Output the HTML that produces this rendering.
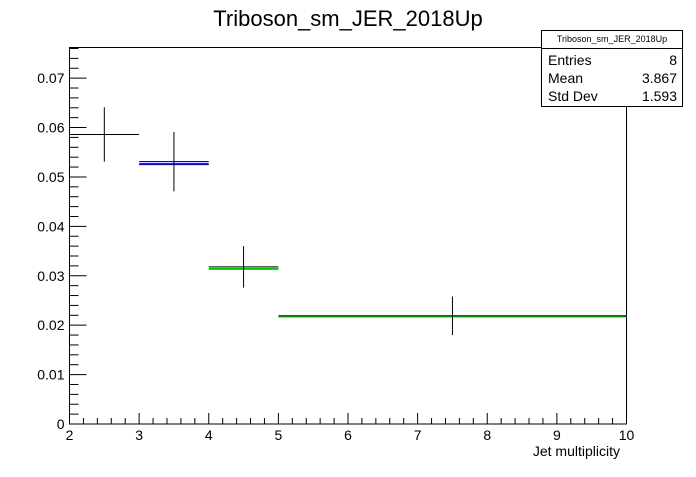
<!DOCTYPE html>
<html><head><meta charset="utf-8"><style>
body{margin:0;background:#fff;font-family:"Liberation Sans",sans-serif}
svg text{font-family:"Liberation Sans",sans-serif}
</style></head><body>
<svg width="696" height="472" viewBox="0 0 696 472">
<rect x="0" y="0" width="696" height="472" fill="#fff"/>
<text x="348" y="26" font-size="22" text-anchor="middle">Triboson_sm_JER_2018Up</text>
<rect x="69.5" y="47.5" width="557" height="376.5" fill="none" stroke="#000"/>
<g id="axes"></g>
<g id="marks"></g>
<text x="620" y="456" font-size="14" text-anchor="end">Jet multiplicity</text>
<g>
<rect x="541.5" y="30.5" width="141" height="76" fill="#fff" stroke="#000"/>
<line x1="541.5" y1="48.5" x2="682.5" y2="48.5" stroke="#000"/>
<text x="612" y="42" font-size="9" text-anchor="middle">Triboson_sm_JER_2018Up</text>
<text x="548" y="65" font-size="14">Entries</text><text x="677" y="65" font-size="14" text-anchor="end">8</text>
<text x="548" y="83" font-size="14">Mean</text><text x="677" y="83" font-size="14" text-anchor="end">3.867</text>
<text x="548" y="101" font-size="14">Std Dev</text><text x="677" y="101" font-size="14" text-anchor="end">1.593</text>
</g>
</svg>
<script>
const binLow=[2,3,4,5];
const binHigh=[3,4,5,10];
const values=[0.0586,0.0531,0.0318,0.0219];
const errors=[0.0055,0.006,0.0042,0.0039];
const blueVals=[null,0.0526,null,null];
const greenVals=[null,null,0.0314,0.02175];
const xTicks=[2,3,4,5,6,7,8,9,10];
const yTicks=[0,0.01,0.02,0.03,0.04,0.05,0.06,0.07];
const NS="http://www.w3.org/2000/svg";
const X0=69.5,X1=626.5,Y0=424,Y1=47.5,xmin=2,xmax=10,ymin=0,ymax=0.0762;
const sx=v=>X0+(v-xmin)/(xmax-xmin)*(X1-X0);
const sy=v=>Y0-(v-ymin)/(ymax-ymin)*(Y0-Y1);
function mk(t,a,p){const e=document.createElementNS(NS,t);for(const k in a)e.setAttribute(k,a[k]);p.appendChild(e);return e;}
const ax=document.getElementById('axes'),mg=document.getElementById('marks');
for(let v=2;v<=10.001;v+=0.2){const x=sx(v);const maj=Math.abs(v-Math.round(v))<1e-6;
 const l=mk('line',{x1:x,x2:x,y1:Y0,y2:Y0-(maj?11:6),stroke:'#000'},ax);
 
 }
xTicks.forEach(v=>{const t=mk('text',{x:sx(v),y:Y0+16,'font-size':14,'text-anchor':'middle'},ax);t.textContent=v;
 
 });
for(let v=0;v<=ymax+1e-9;v+=0.002){const y=sy(v);const maj=Math.abs(v*100-Math.round(v*100))<1e-6;
 const l=mk('line',{x1:X0,x2:X0+(maj?17:9),y1:y,y2:y,stroke:'#000'},ax);
 
 }
yTicks.forEach(v=>{const t=mk('text',{x:X0-5,y:sy(v)+5,'font-size':14,'text-anchor':'end'},ax);t.textContent=v===0?'0':v.toFixed(2);
 
 });
blueVals.forEach((v,i)=>{if(v==null)return;const l=mk('line',{x1:sx(binLow[i]),x2:sx(binHigh[i]),y1:sy(v),y2:sy(v),stroke:'#00f','stroke-width':2},mg);
 
 });
greenVals.forEach((v,i)=>{if(v==null)return;const l=mk('line',{x1:sx(binLow[i]),x2:sx(binHigh[i]),y1:sy(v),y2:sy(v),stroke:'#0c0','stroke-width':2},mg);
 
 });
values.forEach((v,i)=>{const g=mk('g',{},mg);
 
 
 const xc=sx((binLow[i]+binHigh[i])/2);
 mk('line',{x1:sx(binLow[i]),x2:sx(binHigh[i]),y1:sy(v),y2:sy(v),stroke:'#000'},g);
 mk('line',{x1:xc,x2:xc,y1:sy(v+errors[i]),y2:sy(v-errors[i]),stroke:'#000'},g);});
</script>
</body></html>
